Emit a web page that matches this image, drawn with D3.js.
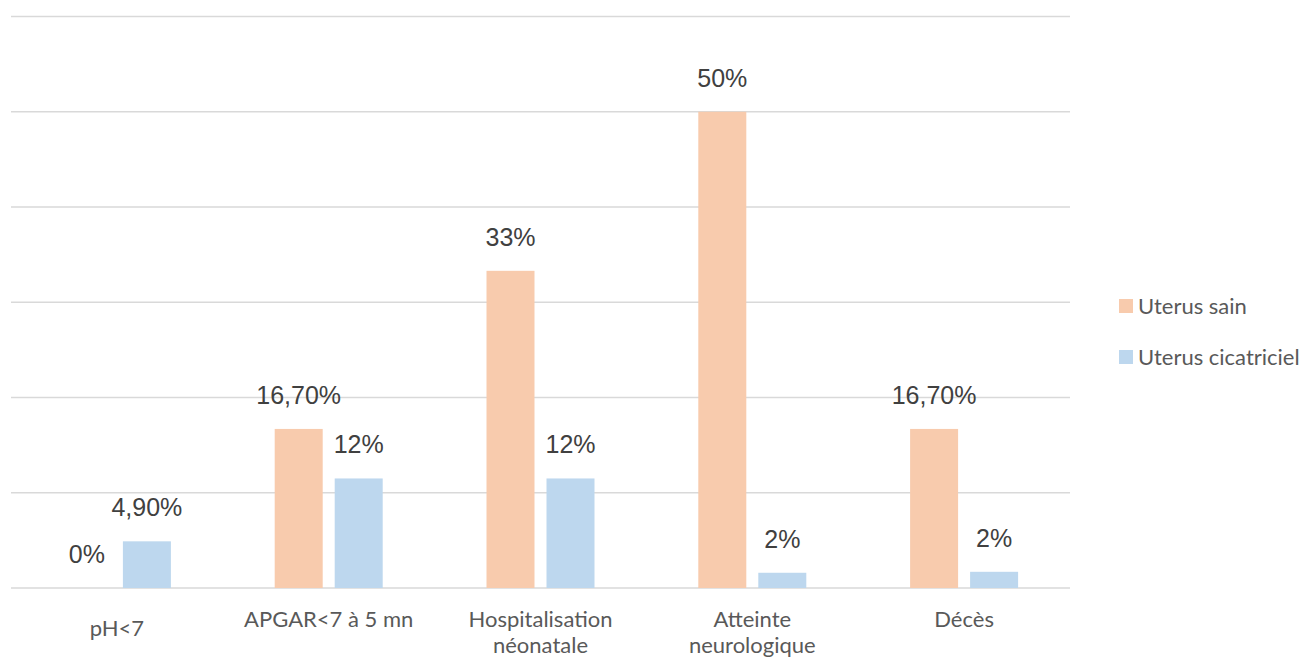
<!DOCTYPE html>
<html>
<head>
<meta charset="utf-8">
<script src="https://cdn.jsdelivr.net/npm/d3@7"></script>
<style>
  body { margin: 0; background: #fff; }
  .cat-label { font-family: Lato, "Noto Sans", sans-serif; font-size: 22px; fill: #595959; }
  .val-label { font-family: "Liberation Sans", Arial, sans-serif; font-size: 25px; fill: #404040; }
  .legend-label { font-family: Lato, "Noto Sans", sans-serif; font-size: 22px; fill: #595959; }
</style>
</head>
<body>
<svg id="chart"></svg>
<script>
// categories (multi-line labels split on \n)
const categories = ['pH<7', 'APGAR<7 à 5 mn', 'Hospitalisation\nnéonatale', 'Atteinte\nneurologique', 'Décès'];
const seriesNames = ['Uterus sain', 'Uterus cicatriciel'];
const seriesColors = ['#F8CBAD', '#BDD7EE'];

// values, labels as printed
const sainValues = [0, 16.7, 33.3, 50, 16.7];
const sainLabels = ['0%', '16,70%', '33%', '50%', '16,70%'];
const cicatricielValues = [4.9, 11.5, 11.5, 1.6, 1.7];
const cicatricielLabels = ['4,90%', '12%', '12%', '2%', '2%'];

const yTicks = [0, 10, 20, 30, 40, 50, 60];

const width = 1305, height = 659;
const margin = {top: 16.5, left: 11, right: 235, bottom: 71};

const svg = d3.select('#chart')
    .attr('width', width)
    .attr('height', height);

const x = d3.scaleBand()
    .domain(categories)
    .range([margin.left, width - margin.right]);

const bw = x.bandwidth();
const xSub = d3.scaleBand()
    .domain(seriesNames)
    .range([bw / 2 - 54, bw / 2 + 54])
    .paddingInner(0.2);

const y = d3.scaleLinear()
    .domain([0, 60])
    .range([height - margin.bottom, margin.top]);

// gridlines
svg.append('g')
  .selectAll('line')
  .data(yTicks)
  .join('line')
    .attr('x1', margin.left)
    .attr('x2', width - margin.right)
    .attr('y1', d => y(d))
    .attr('y2', d => y(d))
    .attr('stroke', '#D9D9D9')
    .attr('stroke-width', 1.5);

const rows = categories.map((c, i) => ({
  cat: c,
  bars: [
    {s: seriesNames[0], v: sainValues[i], label: sainLabels[i], color: seriesColors[0]},
    {s: seriesNames[1], v: cicatricielValues[i], label: cicatricielLabels[i], color: seriesColors[1]}
  ]
}));

const groups = svg.append('g')
  .selectAll('g')
  .data(rows)
  .join('g')
    .attr('transform', d => `translate(${x(d.cat)},0)`);

groups.selectAll('rect')
  .data(d => d.bars)
  .join('rect')
    .attr('x', d => xSub(d.s))
    .attr('width', xSub.bandwidth())
    .attr('y', d => y(d.v))
    .attr('height', d => y(0) - y(d.v))
    .attr('fill', d => d.color);

groups.selectAll('text')
  .data(d => d.bars)
  .join('text')
    .attr('class', 'val-label')
    .attr('text-anchor', 'middle')
    .attr('x', d => xSub(d.s) + xSub.bandwidth() / 2)
    .attr('y', d => y(d.v) - 25)
    .text(d => d.label);

// category labels
const catG = svg.append('g')
  .selectAll('text')
  .data(categories)
  .join('text')
    .attr('class', 'cat-label')
    .attr('text-anchor', 'middle')
    .attr('x', d => x(d) + bw / 2)
    .attr('y', (d, i) => i === 0 ? 636 : 627);

catG.selectAll('tspan')
  .data(d => d.split('\n'))
  .join('tspan')
    .attr('x', function() { return d3.select(this.parentNode).attr('x'); })
    .attr('dy', (d, i) => i === 0 ? 0 : 26)
    .text(d => d);

// legend
const legend = svg.append('g')
  .selectAll('g')
  .data(seriesNames)
  .join('g')
    .attr('transform', (d, i) => `translate(1119,${299 + i * 51})`);

legend.append('rect')
    .attr('width', 14)
    .attr('height', 14)
    .attr('fill', (d, i) => seriesColors[i]);

legend.append('text')
    .attr('class', 'legend-label')
    .attr('x', 19)
    .attr('y', 15)
    .text(d => d);
</script>
</body>
</html>
